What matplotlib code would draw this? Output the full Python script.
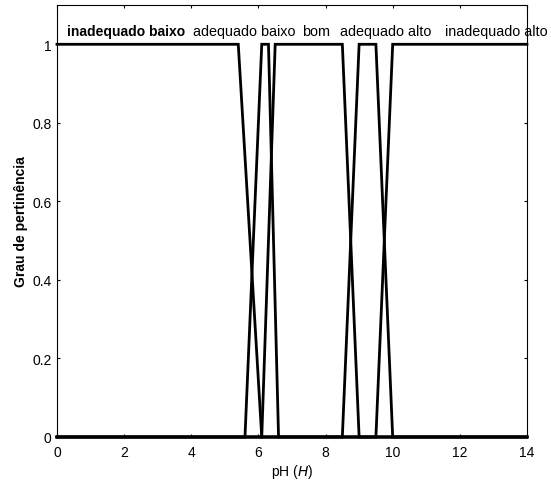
import matplotlib
matplotlib.use("Agg")
import matplotlib.pyplot as plt

plt.rcParams['font.family'] = ['Liberation Sans', 'DejaVu Sans']

# membership functions, corner points over the whole pH range
mf_names = ["inadequado baixo", "adequado baixo", "bom", "adequado alto", "inadequado alto"]
mf_x = [
    [0, 5.4, 6.1, 14],
    [0, 5.6, 6.1, 6.3, 6.6, 14],
    [0, 6.1, 6.5, 8.5, 9.0, 14],
    [0, 8.5, 9.0, 9.5, 10.0, 14],
    [0, 9.5, 10.0, 14],
]
mf_y = [
    [1, 1, 0, 0],
    [0, 0, 1, 1, 0, 0],
    [0, 0, 1, 1, 0, 0],
    [0, 0, 1, 1, 0, 0],
    [0, 0, 1, 1],
]
label_x = [2.07, 5.57, 7.72, 9.8, 13.08]
label_bold = [True, False, False, False, False]

x_ticks = [0, 2, 4, 6, 8, 10, 12, 14]
y_ticks = [0, 0.2, 0.4, 0.6, 0.8, 1]

fig = plt.figure(figsize=(5.51, 4.89), dpi=100)
ax = fig.add_axes([0.1034, 0.1043, 0.853, 0.8834])

for xs, ys in zip(mf_x, mf_y):
    ax.plot(xs, ys, color="black", lw=2, solid_joinstyle="miter", clip_on=False)

for name, lx, b in zip(mf_names, label_x, label_bold):
    ax.text(lx, 1.033, name, ha="center", va="center",
            fontsize=10 if b else 10.4,
            fontweight="bold" if b else "normal")

ax.set_xlim(0, 14)
ax.set_ylim(0, 1.1)
ax.set_xticks(x_ticks)
ax.set_yticks(y_ticks)
ax.set_yticklabels(["0", "0.2", "0.4", "0.6", "0.8", "1"])
ax.tick_params(direction="in", top=True, right=True, labelsize=10, length=2.5)
ax.tick_params(axis="x", pad=6)
ax.tick_params(axis="y", pad=4)
ax.set_xlabel("pH ($\\it{H}$)", fontsize=10, labelpad=2)
ax.set_ylabel("Grau de pertinência", fontsize=10, fontweight="bold", labelpad=3)

fig.savefig("out.png", dpi=100)
